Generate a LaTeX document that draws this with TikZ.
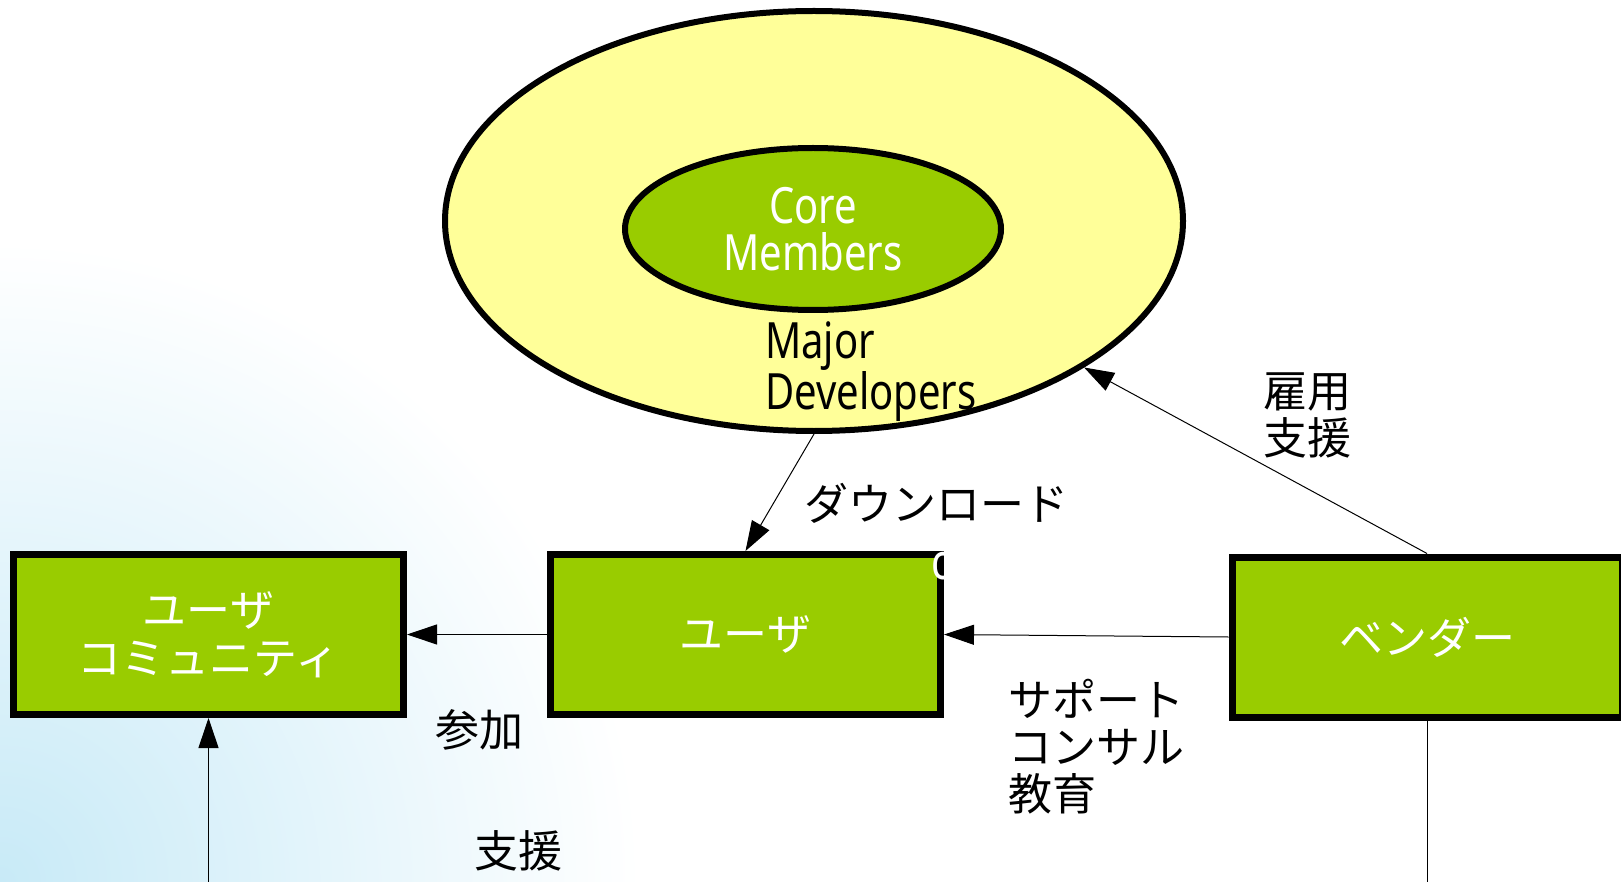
\documentclass[tikz,border=0pt]{standalone}
\usepackage{fontspec}
\setmainfont{Noto Sans CJK JP}
\newfontfamily\latfont[FakeStretch=0.8]{Noto Sans}
\usetikzlibrary{shapes.geometric,arrows.meta}
\definecolor{ygold}{RGB}{255,255,153}
\definecolor{lgreen}{RGB}{153,204,0}
\definecolor{bgblue}{RGB}{200,234,247}
\newcommand\jpsize{\fontsize{44}{47}\selectfont}
\newcommand\latsize{\latfont\fontsize{50}{47}\selectfont}
\tikzset{
  box/.style={draw=black, line width=7pt, fill=lgreen, minimum width=390pt,
    minimum height=160pt, inner sep=0pt, text=white, font=\jpsize, align=center},
  ring/.style={ellipse, draw=black, line width=6pt, inner sep=0pt},
  arr/.style={line width=1pt, -{Triangle[length=30pt,width=20pt]}},
  plain/.style={line width=1pt},
  lbl/.style={font=\jpsize, text=black, inner sep=0pt, align=left},
}
\begin{document}
\begin{tikzpicture}[x=1pt,y=-1pt]
\useasboundingbox (0,0) rectangle (1621,882);
% background
\begin{scope}
  \clip (0,0) rectangle (1621,882);
  \fill[white] (0,0) rectangle (1621,882);
  \shade[inner color=bgblue, outer color=white] (0,882) circle (640);
\end{scope}
% ellipses
\node[ring, fill=ygold, minimum width=738pt, minimum height=420pt] (outer) at (814,221) {};
\node[ring, fill=lgreen, minimum width=376pt, minimum height=162pt,
  text=white, font=\latsize, align=center] (core) at (813,229) {Core\\Members};
\node[anchor=west, font=\latsize, align=left, inner sep=0pt] (major) at (765,372) {Major\\Developers};
% boxes
\node[box] (comm) at (208.5,634.5) {ユーザ\\[1pt]コミュニティ};
\node[box] (user) at (745.5,634.5) {ユーザ};
\node[box] (vendor) at (1427,637) {ベンダー};
% stray white c at the user box edge
\begin{scope}
  \clip (900,540) rectangle (946,600);
  \node[font=\latsize, text=white, inner sep=0pt] (stray) at (941,566) {c};
\end{scope}
% connectors
\draw[arr] (outer.south) -- (user.north);
\draw[arr] (vendor.north) -- (outer);
\draw[arr] (vendor.west) -- (user.east);
\draw[arr] (user.west) -- (comm.east);
\coordinate (cb) at (208.5,882);
\coordinate (vb) at (1427,882);
\draw[arr] (cb) -- (comm.south);
\draw[plain] (vendor.south) -- (vb);
% labels
\node[lbl] (dl) at (936,503) {ダウンロード};
\node[lbl, anchor=west] (koyo) at (1263,415) {雇用\\支援};
\node[lbl, anchor=west] (sup) at (1008,747) {サポート\\コンサル\\教育};
\node[lbl] (sanka) at (479,730) {参加};
\node[lbl] (shien) at (518,851) {支援};
\end{tikzpicture}
\end{document}
